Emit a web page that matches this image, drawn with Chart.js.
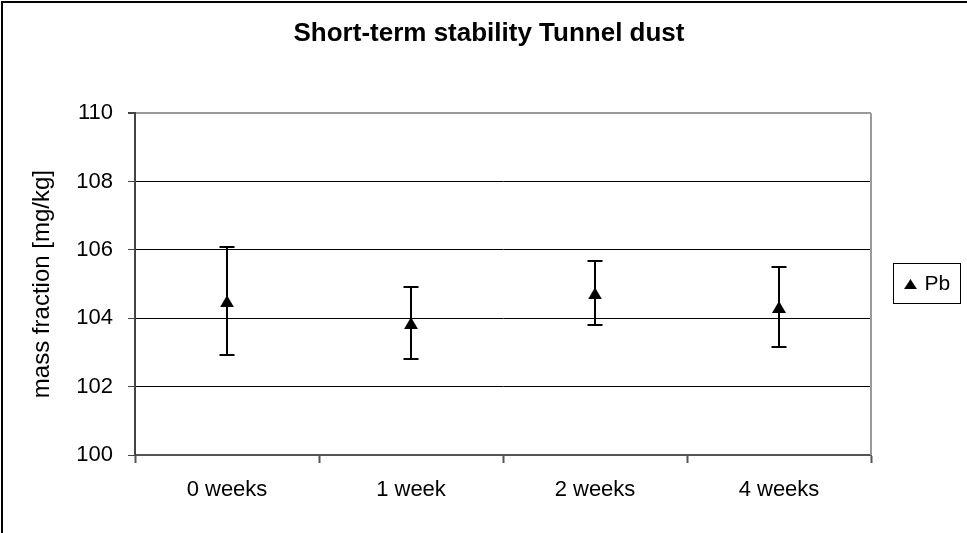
<!DOCTYPE html>
<html>
<head>
<meta charset="utf-8">
<title>Short-term stability Tunnel dust</title>
<script src="https://cdn.jsdelivr.net/npm/chart.js@4.4.1/dist/chart.umd.min.js"></script>
<style>
  html, body { margin: 0; padding: 0; background: #fff; }
</style>
</head>
<body>
<canvas id="stab-chart" width="967" height="533"></canvas>
<script>
// Pb mass fraction per storage time, mean and uncertainty (mg/kg)
var weeks = ['0 weeks', '1 week', '2 weeks', '4 weeks'];
var pbMean = [104.50, 103.86, 104.73, 104.33];
var pbUnc = [1.58, 1.06, 0.94, 1.17];
var yTicks = [100, 102, 104, 106, 108, 110];

var FONT = '"Liberation Sans", Arial, sans-serif';

// filled triangle marker, centred on its bounding box
function triangle(w, h) {
  var c = document.createElement('canvas');
  c.width = w; c.height = h;
  var g = c.getContext('2d');
  g.fillStyle = '#000';
  g.beginPath();
  g.moveTo(w / 2, 0);
  g.lineTo(w, h);
  g.lineTo(0, h);
  g.closePath();
  g.fill();
  return c;
}
var marker = triangle(14, 12);
var legendMarker = triangle(13, 10);

var background = {
  id: 'background',
  beforeDraw: function (chart) {
    var ctx = chart.ctx;
    ctx.save();
    ctx.fillStyle = '#fff';
    ctx.fillRect(0, 0, chart.width, chart.height);
    // outer frame
    ctx.strokeStyle = '#000';
    ctx.lineWidth = 2;
    ctx.strokeRect(2, 2, chart.width + 20, chart.height + 20);
    ctx.restore();
  },
  afterDraw: function (chart) {
    // grey right edge of the plot area
    var a = chart.chartArea, ctx = chart.ctx;
    ctx.save();
    ctx.strokeStyle = '#999';
    ctx.lineWidth = 2;
    ctx.beginPath();
    ctx.moveTo(a.right, a.top);
    ctx.lineTo(a.right, a.bottom);
    ctx.stroke();
    ctx.restore();
  }
};

var errorBars = {
  id: 'errorBars',
  beforeDatasetsDraw: function (chart) {
    var ctx = chart.ctx, x = chart.scales.x, y = chart.scales.y;
    ctx.save();
    ctx.strokeStyle = '#000';
    ctx.lineWidth = 2;
    pbMean.forEach(function (m, i) {
      var px = Math.round(x.getPixelForValue(i));
      var top = Math.round(y.getPixelForValue(m + pbUnc[i]));
      var bot = Math.round(y.getPixelForValue(m - pbUnc[i]));
      ctx.beginPath();
      ctx.moveTo(px, top); ctx.lineTo(px, bot);
      ctx.moveTo(px - 7.5, top); ctx.lineTo(px + 7.5, top);
      ctx.moveTo(px - 7.5, bot); ctx.lineTo(px + 7.5, bot);
      ctx.stroke();
    });
    ctx.restore();
  }
};

// legend column on the right is a fixed 96px wide, with a frame round the entry
var legendBox = {
  id: 'legendBox',
  beforeUpdate: function (chart) {
    var lg = chart.legend;
    if (lg && !lg._fixedWidth) {
      var fit = lg.fit;
      lg.fit = function () {
        fit.call(this);
        this.width = 96;
      };
      lg._fixedWidth = true;
    }
  },
  afterDraw: function (chart) {
    var ctx = chart.ctx;
    ctx.save();
    ctx.strokeStyle = '#000';
    ctx.lineWidth = 1;
    ctx.strokeRect(893.5, 263.5, 67, 40);
    ctx.restore();
  }
};

var ctx = document.getElementById('stab-chart');
var stabChart = new Chart(ctx, {
  type: 'line',
  data: {
    labels: weeks,
    datasets: [
      {
        label: 'Pb',
        data: pbMean,
        showLine: false,
        pointStyle: marker,
        pointRadius: 7,
        borderColor: '#000',
        backgroundColor: '#000'
      }
    ]
  },
  options: {
    responsive: false,
    animation: false,
    layout: { padding: { left: 11, right: 0, top: 0, bottom: 0 } },
    plugins: {
      legend: {
        position: 'right',
        align: 'center',
        fullSize: false,
        labels: {
          color: '#000',
          font: { family: FONT, size: 21 },
          usePointStyle: true,
          pointStyle: legendMarker,
          boxWidth: 7,
          padding: 36
        }
      },
      tooltip: { enabled: false },
      title: {
        display: true,
        text: 'Short-term stability Tunnel dust',
        color: '#000',
        font: { family: FONT, size: 26, weight: 'bold' },
        padding: { top: 18, bottom: 64 }
      }
    },
    scales: {
      x: {
        offset: true,
        grid: {
          offset: true,
          drawOnChartArea: false,
          tickLength: 8,
          tickColor: '#555',
          tickWidth: 2
        },
        border: { color: '#555', width: 2 },
        ticks: {
          color: '#000',
          padding: 14,
          font: { family: FONT, size: 22 }
        },
        afterFit: function (scale) { scale.height = 78; }
      },
      y: {
        min: 100,
        max: 110,
        afterBuildTicks: function (axis) {
          axis.ticks = yTicks.map(function (v) { return { value: v }; });
        },
        grid: {
          color: function (c) { return c.tick && c.tick.value === 110 ? '#999' : '#000'; },
          lineWidth: function (c) { return c.tick && c.tick.value === 110 ? 2 : 1; },
          tickLength: 7,
          tickColor: '#444'
        },
        border: { color: '#444', width: 2 },
        ticks: {
          color: '#000',
          padding: 15,
          font: { family: FONT, size: 22 }
        },
        title: {
          display: true,
          text: 'mass fraction [mg/kg]',
          color: '#000',
          font: { family: FONT, size: 24 },
          padding: { top: 17, bottom: 0 }
        },
        afterFit: function (scale) { scale.width = 124; }
      }
    }
  },
  plugins: [background, errorBars, legendBox]
});
</script>
</body>
</html>
